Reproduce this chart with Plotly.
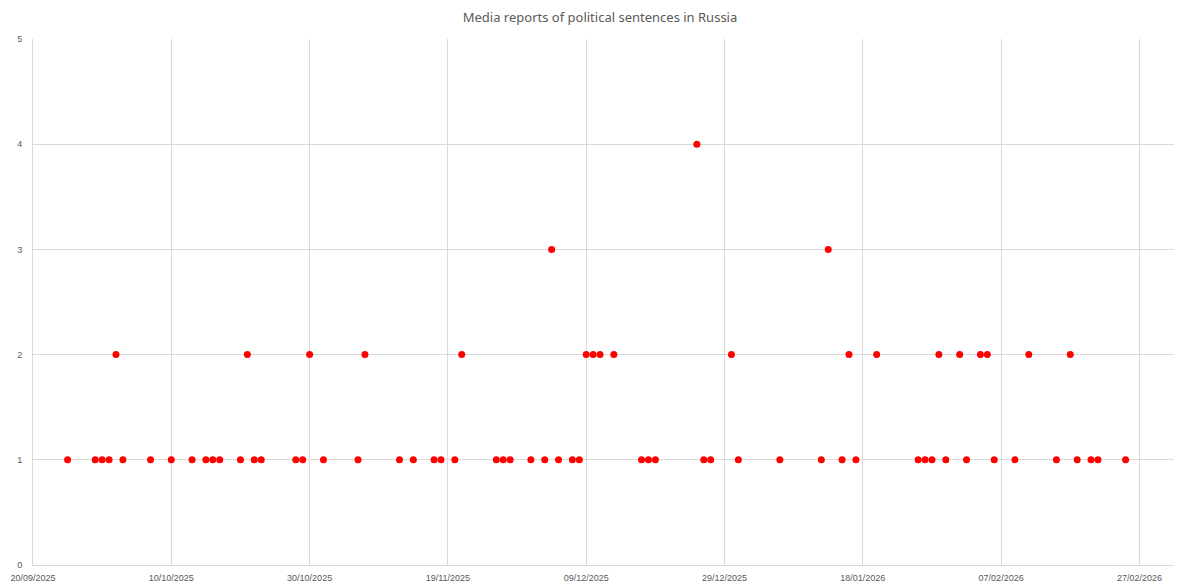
import plotly.graph_objects as go

dates = [
    "2025-09-25", "2025-09-29", "2025-09-30", "2025-10-01", "2025-10-02", "2025-10-03",
    "2025-10-07", "2025-10-10", "2025-10-13", "2025-10-15", "2025-10-16", "2025-10-17",
    "2025-10-20", "2025-10-21", "2025-10-22", "2025-10-23", "2025-10-28", "2025-10-29",
    "2025-10-30", "2025-11-01", "2025-11-06", "2025-11-07", "2025-11-12", "2025-11-14",
    "2025-11-17", "2025-11-18", "2025-11-20", "2025-11-21", "2025-11-26", "2025-11-27",
    "2025-11-28", "2025-12-01", "2025-12-03", "2025-12-04", "2025-12-05", "2025-12-07",
    "2025-12-08", "2025-12-09", "2025-12-10", "2025-12-11", "2025-12-13", "2025-12-17",
    "2025-12-18", "2025-12-19", "2025-12-25", "2025-12-26", "2025-12-27", "2025-12-30",
    "2025-12-31", "2026-01-06", "2026-01-12", "2026-01-13", "2026-01-15", "2026-01-16",
    "2026-01-17", "2026-01-20", "2026-01-26", "2026-01-27", "2026-01-28", "2026-01-29",
    "2026-01-30", "2026-02-01", "2026-02-02", "2026-02-04", "2026-02-05", "2026-02-06",
    "2026-02-09", "2026-02-11", "2026-02-15", "2026-02-17", "2026-02-18", "2026-02-20",
    "2026-02-21", "2026-02-25",
]
counts = [
    1, 1, 1, 1, 2, 1,
    1, 1, 1, 1, 1, 1,
    1, 2, 1, 1, 1, 1,
    2, 1, 1, 2, 1, 1,
    1, 1, 1, 2, 1, 1,
    1, 1, 1, 3, 1, 1,
    1, 2, 2, 2, 2, 1,
    1, 1, 4, 1, 1, 2,
    1, 1, 1, 3, 1, 2,
    1, 2, 1, 1, 1, 2,
    1, 2, 1, 2, 2, 1,
    1, 2, 1, 2, 1, 1,
    1, 1,
]

x_range = ["2025-09-20", "2026-03-04"]
y_ticks = [0, 1, 2, 3, 4, 5]
title_text = "Media reports of political sentences in Russia"

fig = go.Figure(
    go.Scatter(
        x=dates, y=counts, mode="markers",
        marker=dict(color="#ff0000", size=7, line=dict(width=0)),
        showlegend=False,
    )
)

grid = "#d9d9d9"
fig.update_layout(
    width=1200, height=588,
    margin=dict(l=33, r=26, t=39, b=23),
    paper_bgcolor="white", plot_bgcolor="white",
    title=dict(text=title_text, x=0.5, xanchor="center", y=0.971, yanchor="middle",
               font=dict(family="Noto Sans", size=13, color="#595959")),
    font=dict(family="Liberation Sans", size=9, color="#595959"),
    xaxis=dict(
        type="date", range=x_range, tick0=x_range[0], dtick=20 * 86400000,
        tickformat="%d/%m/%Y", showgrid=True, gridcolor=grid, gridwidth=1,
        showline=True, linecolor=grid, linewidth=1, ticks="", zeroline=False,
        automargin=False, ticklabelstandoff=4, tickfont=dict(size=9, color="#595959"),
    ),
    yaxis=dict(
        range=[0, 5], tickvals=y_ticks, showgrid=True, gridcolor=grid, gridwidth=1,
        showline=True, linecolor=grid, zeroline=False, ticks="", automargin=False,
        ticklabelstandoff=8, tickfont=dict(size=9, color="#595959"),
    ),
)

fig.write_html("out.html")
